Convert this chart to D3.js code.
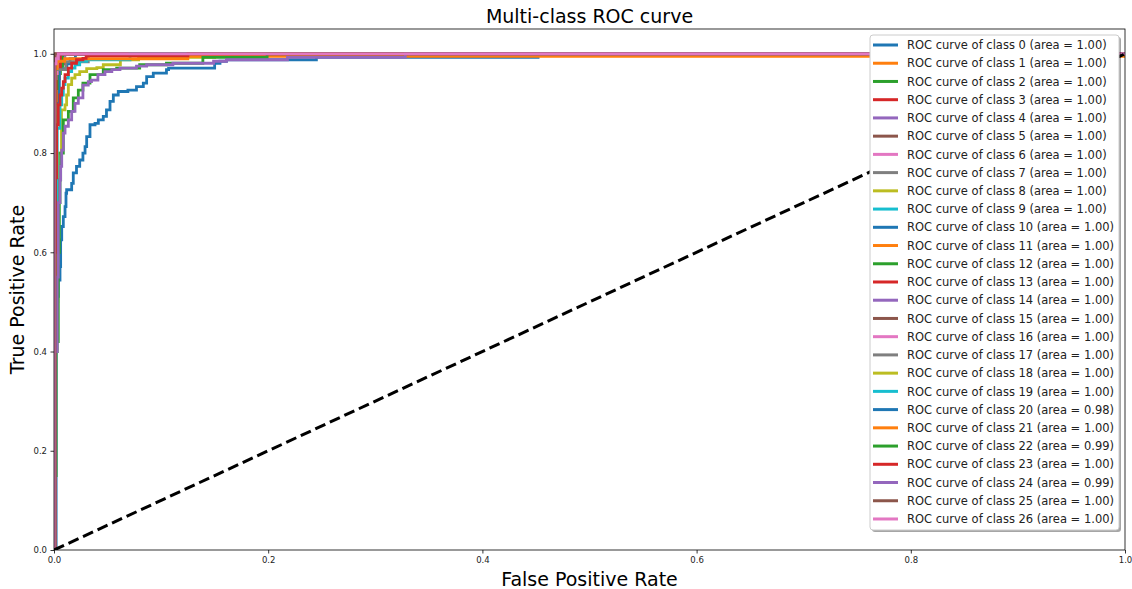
<!DOCTYPE html>
<html>
<head>
<meta charset="utf-8">
<script src="https://cdn.jsdelivr.net/npm/d3@7/dist/d3.min.js"></script>
<style>
  html, body { margin: 0; padding: 0; background: #fff; }
  svg { display: block; font-family: "DejaVu Sans", sans-serif; }
  .tick text { fill: #222; }
</style>
</head>
<body>
<svg id="chart" width="1132" height="589"></svg>
<script>
(function () {
  "use strict";

  // ROC points per class, [fpr, tpr]
  var class0 = [[0, 0], [0, 0.93], [0.002, 0.97], [0.004, 0.985], [0.008, 1], [1, 1]];
  var class1 = [[0, 0], [0.001, 0.8], [0.001, 0.97], [0.003, 0.99], [0.006, 1], [1, 1]];
  var class2 = [[0, 0], [0, 0.9], [0.003, 0.96], [0.006, 0.99], [0.01, 1], [1, 1]];
  var class3 = [[0, 0], [0.001, 0.75], [0.002, 0.95], [0.005, 0.98], [0.009, 1], [1, 1]];
  var class4 = [[0, 0], [0, 0.88], [0.002, 0.96], [0.005, 0.99], [0.01, 1], [1, 1]];
  var class5 = [[0, 0], [0, 0.95], [0.002, 1], [1, 1]];
  var class6 = [[0, 0], [0, 0.97], [0.003, 1], [1, 1]];
  var class7 = [[0, 0], [0, 0.92], [0.004, 0.98], [0.007, 1], [1, 1]];
  var class8 = [[0, 0], [0, 0.9], [0.003, 0.97], [0.007, 1], [1, 1]];
  var class9 = [[0, 0], [0, 0.94], [0.002, 0.98], [0.005, 1], [1, 1]];
  var class10 = [[0, 0], [0.001, 0.9], [0.005, 0.97], [0.012, 0.98], [0.015, 0.99], [0.02, 1], [1, 1]];
  var class11 = [[0, 0], [0, 0.96], [0.003, 0.99], [0.005, 1], [1, 1]];
  var class12 = [[0, 0], [0, 0.93], [0.003, 0.975], [0.008, 1], [1, 1]];
  var class13 = [[0, 0], [0, 0.9], [0.002, 0.97], [0.006, 1], [1, 1]];
  var class14 = [[0, 0], [0, 0.95], [0.002, 0.985], [0.004, 1], [1, 1]];
  var class15 = [[0, 0], [0, 0.97], [0.001, 1], [1, 1]];
  var class16 = [[0, 0], [0, 0.96], [0.003, 1], [1, 1]];
  var class17 = [[0, 0], [0.001, 0.96], [0.001, 0.968], [0.011, 0.968], [0.011, 0.984],
    [0.032, 0.984], [0.032, 1], [1, 1]];
  var class18 = [[0, 0], [0.001, 0.5], [0.0035, 0.8], [0.007, 0.887], [0.0103, 0.897],
    [0.0118, 0.917], [0.0134, 0.938], [0.0165, 0.951], [0.0196, 0.958], [0.024, 0.964],
    [0.0305, 0.97], [0.04, 0.972], [0.046, 0.978], [0.062, 0.981], [0.062, 0.988],
    [0.079, 0.988], [0.079, 0.993], [0.15, 0.993], [0.15, 1], [1, 1]];
  var class19 = [[0, 0], [0.001, 0.6], [0.003, 0.85], [0.0056, 0.897], [0.0072, 0.917],
    [0.0087, 0.938], [0.0103, 0.951], [0.0134, 0.964], [0.0165, 0.971], [0.0196, 0.978],
    [0.024, 0.985], [0.0305, 0.988], [0.071, 0.988], [0.071, 1], [1, 1]];
  var class20 = [[0, 0], [0.002, 0.42], [0.0025, 0.44], [0.0031, 0.511], [0.004, 0.544],
    [0.0056, 0.571], [0.0062, 0.625], [0.0072, 0.652], [0.0087, 0.672], [0.0103, 0.692],
    [0.0112, 0.719], [0.0118, 0.726], [0.0165, 0.739], [0.018, 0.76], [0.021, 0.773],
    [0.024, 0.786], [0.027, 0.8], [0.029, 0.813], [0.0305, 0.833], [0.0336, 0.857],
    [0.0383, 0.86], [0.0414, 0.867], [0.046, 0.874], [0.049, 0.887], [0.0523, 0.904],
    [0.0554, 0.917], [0.06, 0.924], [0.069, 0.927], [0.077, 0.934], [0.0834, 0.941],
    [0.0865, 0.954], [0.0927, 0.961], [0.105, 0.968], [0.107, 0.971], [0.149, 0.971],
    [0.15, 0.981], [0.155, 0.985], [0.161, 0.988], [0.245, 0.988], [0.245, 0.993],
    [0.452, 0.993], [0.452, 1], [1, 1]];
  var class21 = [[0, 0], [0.001, 0.8], [0.001, 0.97], [0.003, 0.985], [0.01, 0.99],
    [0.125, 0.99], [0.125, 0.995], [1, 0.995], [1, 1]];
  var class22 = [[0, 0], [0, 0.15], [0.002, 0.15], [0.002, 0.4], [0.003, 0.42], [0.004, 0.6],
    [0.005, 0.7], [0.0056, 0.746], [0.0062, 0.8], [0.0087, 0.867], [0.0134, 0.884],
    [0.018, 0.911], [0.0227, 0.927], [0.027, 0.941], [0.0336, 0.958], [0.046, 0.968],
    [0.0585, 0.971], [0.08, 0.978], [0.105, 0.981], [0.139, 0.985], [0.139, 0.993],
    [0.199, 0.993], [0.199, 1], [1, 1]];
  var class23 = [[0, 0], [0.001, 0.6], [0.0015, 0.75], [0.0025, 0.857], [0.004, 0.897],
    [0.0056, 0.917], [0.0072, 0.931], [0.0087, 0.944], [0.0103, 0.958], [0.0134, 0.971],
    [0.0165, 0.981], [0.021, 0.988], [0.027, 0.991], [0.03, 0.996], [0.125, 0.996],
    [0.125, 1], [1, 1]];
  var class24 = [[0, 0], [0.001, 0.4], [0.003, 0.55], [0.004, 0.7], [0.0056, 0.746],
    [0.0062, 0.773], [0.0072, 0.806], [0.0087, 0.84], [0.0103, 0.854], [0.0134, 0.867],
    [0.0165, 0.884], [0.0196, 0.9], [0.0227, 0.911], [0.027, 0.937], [0.032, 0.944],
    [0.035, 0.947], [0.041, 0.958], [0.0476, 0.964], [0.054, 0.968], [0.0616, 0.971],
    [0.077, 0.975], [0.0865, 0.978], [0.111, 0.981], [0.149, 0.985], [0.161, 0.988],
    [0.218, 0.988], [0.218, 0.993], [0.328, 0.993], [0.328, 1], [1, 1]];
  var class25 = [[0, 0], [0.001, 0.9], [0.001, 1], [1, 1]];
  var class26 = [[0, 0], [0, 0.98], [0.002, 0.99], [0.004, 1], [1, 1]];

  var curves = [class0, class1, class2, class3, class4, class5, class6, class7, class8,
    class9, class10, class11, class12, class13, class14, class15, class16, class17,
    class18, class19, class20, class21, class22, class23, class24, class25, class26];

  var areas = [1.00, 1.00, 1.00, 1.00, 1.00, 1.00, 1.00, 1.00, 1.00, 1.00,
    1.00, 1.00, 1.00, 1.00, 1.00, 1.00, 1.00, 1.00, 1.00, 1.00,
    0.98, 1.00, 0.99, 1.00, 0.99, 1.00, 1.00];

  var chance = [[0, 0], [1, 1]];
  var xTicks = [0, 0.2, 0.4, 0.6, 0.8, 1.0];
  var yTicks = [0, 0.2, 0.4, 0.6, 0.8, 1.0];

  var palette = ["#1f77b4", "#ff7f0e", "#2ca02c", "#d62728", "#9467bd",
    "#8c564b", "#e377c2", "#7f7f7f", "#bcbd22", "#17becf"];

  var left = 54, right = 1125, top = 29, bottom = 550;

  var svg = d3.select("#chart");

  var x = d3.scaleLinear().domain([0, 1]).range([left, right]);
  var y = d3.scaleLinear().domain([0, 1.05]).range([bottom, top]);

  svg.append("defs").append("clipPath")
      .attr("id", "plot-clip")
    .append("rect")
      .attr("x", left)
      .attr("y", top)
      .attr("width", right - left)
      .attr("height", bottom - top);

  // stepped, like the thresholded roc output
  var stepLine = d3.line()
      .curve(d3.curveStepAfter)
      .x(function (d) { return x(d[0]); })
      .y(function (d) { return y(d[1]); });

  var line = d3.line()
      .x(function (d) { return x(d[0]); })
      .y(function (d) { return y(d[1]); });

  var plot = svg.append("g").attr("clip-path", "url(#plot-clip)");

  plot.selectAll("path.roc")
      .data(curves)
    .enter().append("path")
      .attr("class", "roc")
      .attr("d", stepLine)
      .attr("fill", "none")
      .attr("stroke", function (d, i) { return palette[i % 10]; })
      .attr("stroke-width", 2.8)
      .attr("stroke-linejoin", "miter");

  plot.append("path")
      .datum(chance)
      .attr("d", line)
      .attr("fill", "none")
      .attr("stroke", "#000")
      .attr("stroke-width", 3)
      .attr("stroke-dasharray", "11,5");

  // axes
  var xAxis = svg.append("g")
      .attr("transform", "translate(0," + bottom + ")")
      .call(d3.axisBottom(x).tickValues(xTicks).tickFormat(d3.format(".1f"))
        .tickSize(3.5).tickPadding(3));
  var yAxis = svg.append("g")
      .attr("transform", "translate(" + left + ",0)")
      .call(d3.axisLeft(y).tickValues(yTicks).tickFormat(d3.format(".1f"))
        .tickSize(3.5).tickPadding(3.5));

  [xAxis, yAxis].forEach(function (ax) {
    ax.select(".domain").remove();
    ax.selectAll(".tick line").attr("stroke", "#000").attr("stroke-width", 0.8);
    ax.selectAll(".tick text").style("font-size", "8.5px").style("font-family", "DejaVu Sans");
  });

  // frame
  svg.append("rect")
      .attr("x", left)
      .attr("y", top)
      .attr("width", right - left)
      .attr("height", bottom - top)
      .attr("fill", "none")
      .attr("stroke", "#000")
      .attr("stroke-width", 0.8);

  // titles
  svg.append("text")
      .attr("x", (left + right) / 2)
      .attr("y", 23)
      .attr("text-anchor", "middle")
      .style("font-size", "19px")
      .text("Multi-class ROC curve");

  svg.append("text")
      .attr("x", (left + right) / 2)
      .attr("y", 586)
      .attr("text-anchor", "middle")
      .style("font-size", "19px")
      .text("False Positive Rate");

  svg.append("text")
      .attr("transform", "translate(24," + ((top + bottom) / 2) + ") rotate(-90)")
      .attr("text-anchor", "middle")
      .style("font-size", "19px")
      .text("True Positive Rate");

  // legend
  var lgX = 870, lgY = 35, lgW = 249, lgH = 495, rowH = 18.23;
  var legend = svg.append("g");

  legend.append("rect")
      .attr("x", lgX + 2)
      .attr("y", lgY + 2)
      .attr("width", lgW)
      .attr("height", lgH)
      .attr("rx", 3)
      .attr("fill", "rgba(0,0,0,0.35)");
  legend.append("rect")
      .attr("x", lgX)
      .attr("y", lgY)
      .attr("width", lgW)
      .attr("height", lgH)
      .attr("rx", 3)
      .attr("fill", "#fff")
      .attr("stroke", "#ccc")
      .attr("stroke-width", 1);

  var rows = legend.selectAll("g.row")
      .data(areas)
    .enter().append("g")
      .attr("class", "row")
      .attr("transform", function (d, i) { return "translate(0," + (lgY + 10 + i * rowH) + ")"; });

  rows.append("line")
      .attr("x1", 873)
      .attr("x2", 898)
      .attr("stroke", function (d, i) { return palette[i % 10]; })
      .attr("stroke-width", 3);

  rows.append("text")
      .attr("x", 907)
      .attr("dy", "0.36em")
      .style("font-size", "11.5px")
      .style("fill", "#222")
      .text(function (d, i) { return "ROC curve of class " + i + " (area = " + d.toFixed(2) + ")"; });
}());
</script>
</body>
</html>
